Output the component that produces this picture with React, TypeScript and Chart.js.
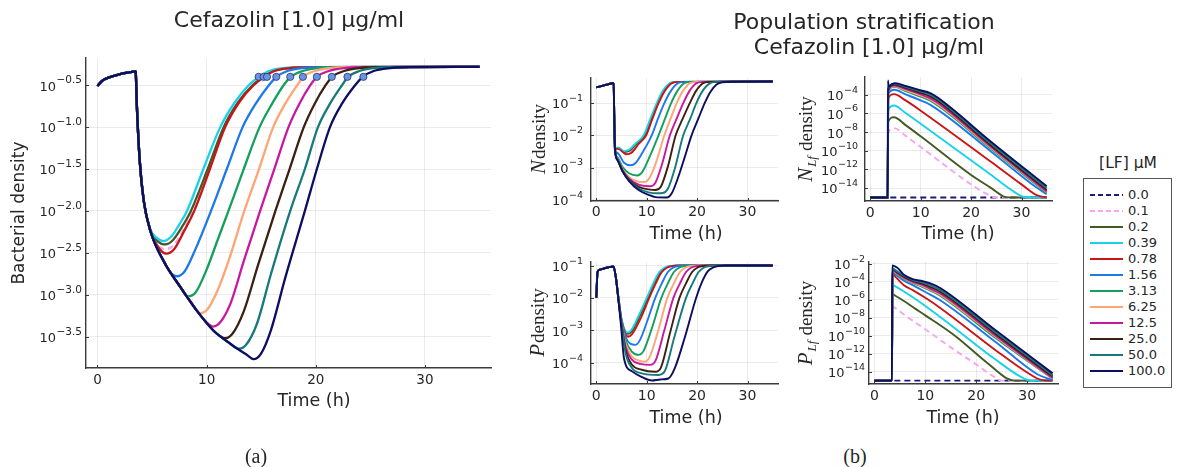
import React, { useEffect, useRef } from "react";
import { Chart, registerables } from "chart.js";
Chart.register(...registerables);

type Pt = [number, number];

const SANS = "'DejaVu Sans', 'Liberation Sans', sans-serif";
const SERIF = "'Liberation Serif', 'DejaVu Serif', serif";
const TEXT = "#262626";
const AXIS = "#3a3a3a";
const GRID = "rgba(0,0,0,0.08)";

// ---- legend / series identity ----
const LEVELS = ["0.0", "0.1", "0.2", "0.39", "0.78", "1.56", "3.13", "6.25", "12.5", "25.0", "50.0", "100.0"];
const COLORS = ["#1c1c78", "#f4a6ee", "#435a25", "#18d2ec", "#c81616", "#1f78ea", "#14a05c", "#ffa476", "#c8189e", "#3c2010", "#177a7a", "#0d0d62"];
const DASHED = [true, true, false, false, false, false, false, false, false, false, false, false];

// ---- axes ----
const X_MIN = -1.05;
const X_MAX = 36.05;
const X_TICKS = [0, 10, 20, 30];
const A_Y_TICKS = [-3.5, -3.0, -2.5, -2.0, -1.5, -1.0, -0.5];
const N_Y_TICKS = [-4, -3, -2, -1];
const P_Y_TICKS = [-4, -3, -2, -1];
const NLF_Y_TICKS = [-14, -12, -10, -8, -6, -4];
const PLF_Y_TICKS = [-14, -12, -10, -8, -6, -4, -2];

// ---- panel (a): log10 bacterial density vs time ----
const A_PRE: Pt[] = [[0, -0.51], [0.4, -0.45], [1, -0.41], [2, -0.37], [3, -0.345], [3.45, -0.335]];
const A_ENV: Pt[] = [[3.5, -0.34], [3.6, -0.72], [3.87, -1.4], [4.24, -1.88], [4.85, -2.24], [6.07, -2.6], [7.6, -2.91], [9.1, -3.19], [10.64, -3.43], [12.17, -3.585], [13.7, -3.72]];
const A_PINK: Pt[] = [[4.85, -2.24], [5.5, -2.41], [6.35, -2.455], [7.1, -2.39], [7.9, -2.22], [8.8, -2.0], [10.25, -1.5], [11.65, -1.0], [12.95, -0.7], [14.25, -0.5], [15.25, -0.4], [16.15, -0.33], [17.5, -0.295], [20, -0.285], [35, -0.28]];
const A_OLIVE: Pt[] = [[4.85, -2.23], [5.5, -2.36], [6.2, -2.4], [6.9, -2.35], [7.7, -2.2], [8.56, -2.0], [10.1, -1.5], [11.56, -1.0], [12.9, -0.7], [14.2, -0.5], [15.2, -0.4], [16.1, -0.33], [17.5, -0.295], [20, -0.285], [35, -0.28]];
const A_CYAN: Pt[] = [[4.85, -2.22], [5.4, -2.32], [6.07, -2.36], [6.8, -2.3], [7.5, -2.16], [8.2, -2.0], [9.7, -1.5], [11.25, -1.0], [12.6, -0.7], [13.85, -0.5], [14.8, -0.4], [15.7, -0.33], [17, -0.295], [20, -0.285], [35, -0.28]];
const A_RED: Pt[] = [[4.85, -2.24], [5.6, -2.44], [6.3, -2.51], [7.0, -2.46], [7.9, -2.25], [8.87, -2.0], [10.3, -1.5], [11.7, -1.0], [13.0, -0.7], [14.3, -0.5], [15.3, -0.4], [16.2, -0.33], [17.6, -0.295], [20, -0.285], [35, -0.28]];
const A_BLUE: Pt[] = [[6.6, -2.72], [7.28, -2.78], [8.0, -2.72], [9.0, -2.45], [10.4, -2.0], [11.85, -1.5], [13.3, -1.0], [14.5, -0.72], [15.7, -0.5], [16.4, -0.4], [17.4, -0.33], [18.8, -0.295], [21, -0.285], [35, -0.28]];
const A_GREEN: Pt[] = [[8.26, -3.02], [9.0, -2.97], [10.0, -2.7], [11.0, -2.35], [12.0, -2.0], [13.4, -1.5], [14.85, -1.0], [16.0, -0.72], [17.05, -0.5], [17.7, -0.4], [18.8, -0.33], [20.2, -0.295], [22, -0.285], [35, -0.28]];
const A_PEACH: Pt[] = [[8.5, -3.07], [9.4, -3.22], [10.1, -3.17], [11.0, -2.95], [12.0, -2.6], [13.45, -2.0], [14.8, -1.5], [16.1, -1.0], [17.2, -0.72], [18.3, -0.5], [18.85, -0.4], [19.9, -0.33], [21.4, -0.295], [23, -0.285], [35, -0.28]];
const A_MAGENTA: Pt[] = [[10.0, -3.33], [10.6, -3.38], [11.3, -3.32], [12.2, -3.1], [13.4, -2.6], [14.9, -2.0], [16.2, -1.5], [17.5, -1.0], [18.5, -0.72], [19.5, -0.5], [20.1, -0.4], [21.2, -0.33], [22.6, -0.295], [24.5, -0.285], [35, -0.28]];
const A_BROWN: Pt[] = [[11.2, -3.49], [11.7, -3.52], [12.4, -3.46], [13.4, -3.2], [14.7, -2.65], [16.3, -2.0], [17.6, -1.5], [18.9, -1.0], [19.9, -0.72], [20.9, -0.5], [21.5, -0.4], [22.6, -0.33], [24, -0.295], [26, -0.285], [35, -0.28]];
const A_TEAL: Pt[] = [[12.9, -3.645], [13.6, -3.6], [14.6, -3.35], [15.9, -2.75], [17.66, -2.0], [19.0, -1.5], [20.2, -1.0], [21.3, -0.72], [22.4, -0.5], [22.95, -0.4], [24, -0.33], [25.4, -0.295], [27, -0.285], [35, -0.28]];
const A_NAVY: Pt[] = [[14.3, -3.77], [15.0, -3.7], [15.9, -3.42], [17.2, -2.8], [19.0, -2.0], [20.1, -1.5], [21.3, -1.0], [22.4, -0.72], [23.6, -0.5], [24.3, -0.4], [25.3, -0.33], [26.8, -0.295], [28.5, -0.285], [35, -0.28]];
const A_DOTS: Pt[] = [[14.76, -0.4], [15.22, -0.4], [15.53, -0.4], [16.38, -0.4], [17.66, -0.4], [18.82, -0.4], [20.1, -0.4], [21.47, -0.4], [22.9, -0.4], [24.36, -0.4]];

// ---- N density ----
const N_PRE: Pt[] = [[0, -0.51], [1, -0.47], [2, -0.43], [3, -0.39], [3.45, -0.375], [3.55, -1.3], [3.7, -2.42]];
const N_PINK: Pt[] = [[4.3, -2.4], [5.8, -2.56], [6.8, -2.52], [8.2, -2.27], [9.8, -2.0], [11.0, -1.5], [12.3, -1.0], [13.5, -0.62], [14.9, -0.38], [16.3, -0.34], [35, -0.33]];
const N_OLIVE: Pt[] = [[4.3, -2.39], [5.6, -2.52], [6.6, -2.48], [8.0, -2.26], [9.6, -2.0], [10.9, -1.5], [12.2, -1.0], [13.4, -0.62], [14.8, -0.38], [16.2, -0.34], [35, -0.33]];
const N_CYAN: Pt[] = [[4.3, -2.38], [5.5, -2.49], [6.5, -2.45], [7.8, -2.25], [9.4, -2.0], [10.7, -1.5], [12.0, -1.0], [13.2, -0.62], [14.6, -0.38], [16, -0.34], [35, -0.33]];
const N_RED: Pt[] = [[4.3, -2.42], [6.0, -2.59], [7.0, -2.54], [8.4, -2.27], [9.9, -2.0], [11.1, -1.5], [12.35, -1.0], [13.6, -0.62], [15, -0.38], [16.4, -0.34], [35, -0.33]];
const N_BLUE: Pt[] = [[4.2, -2.55], [5.5, -2.85], [6.8, -2.93], [7.8, -2.86], [9.4, -2.47], [11.0, -2.0], [12.2, -1.5], [13.5, -1.0], [14.8, -0.62], [16.2, -0.38], [17.6, -0.34], [35, -0.33]];
const N_GREEN: Pt[] = [[4.2, -2.68], [5.2, -2.98], [6.5, -3.18], [8.1, -3.25], [9.2, -3.12], [10.7, -2.62], [12.35, -2.0], [13.6, -1.5], [14.85, -1.0], [16.1, -0.62], [17.5, -0.38], [19, -0.34], [35, -0.33]];
const N_PEACH: Pt[] = [[4.2, -2.72], [5.2, -3.05], [6.5, -3.3], [8.0, -3.42], [9.4, -3.45], [10.4, -3.36], [11.8, -2.87], [13.5, -2.0], [14.7, -1.5], [15.95, -1.0], [17.2, -0.62], [18.6, -0.38], [20, -0.34], [35, -0.33]];
const N_MAGENTA: Pt[] = [[4.2, -2.74], [5.2, -3.08], [6.5, -3.35], [8.4, -3.53], [10.7, -3.58], [11.7, -3.48], [13.0, -2.92], [14.6, -2.0], [15.9, -1.5], [17.25, -1.0], [18.5, -0.62], [19.9, -0.38], [21.3, -0.34], [35, -0.33]];
const N_BROWN: Pt[] = [[4.2, -2.75], [5.2, -3.1], [6.5, -3.38], [8.4, -3.6], [10.4, -3.68], [11.7, -3.7], [12.8, -3.6], [14.2, -2.97], [15.75, -2.0], [17.1, -1.5], [18.55, -1.0], [19.8, -0.62], [21.2, -0.38], [22.6, -0.34], [35, -0.33]];
const N_TEAL: Pt[] = [[4.2, -2.76], [5.2, -3.11], [6.5, -3.4], [8.4, -3.65], [10.4, -3.77], [12.0, -3.8], [13.2, -3.79], [14.2, -3.66], [15.6, -3.02], [17.25, -2.0], [18.6, -1.5], [19.85, -1.0], [21.1, -0.62], [22.6, -0.38], [24, -0.34], [35, -0.33]];
const N_NAVY: Pt[] = [[4.2, -2.77], [5.2, -3.12], [6.5, -3.42], [8.4, -3.7], [10.4, -3.85], [11.7, -3.92], [14.0, -3.93], [15.0, -3.79], [16.3, -3.28], [17.5, -2.7], [18.9, -2.0], [20.2, -1.5], [21.5, -1.0], [22.6, -0.66], [23.8, -0.43], [25, -0.35], [27, -0.335], [35, -0.33]];

// ---- P density ----
const P_PRE: Pt[] = [[0, -1.99], [0.25, -1.2], [0.6, -1.13], [1.25, -1.1], [2.3, -1.06], [3.4, -1.03], [3.85, -1.33]];
const P_PINK: Pt[] = [[4.4, -2.0], [5.0, -2.68], [5.75, -3.08], [6.3, -3.16], [7.05, -3.08], [8.75, -2.58], [10.35, -2.0], [11.65, -1.55], [12.85, -1.2], [13.95, -1.06], [15.1, -1.01], [16.4, -1.0], [35, -1.0]];
const P_OLIVE: Pt[] = [[4.4, -2.0], [5.0, -2.67], [5.7, -3.03], [6.25, -3.11], [7.0, -3.04], [8.6, -2.57], [10.2, -2.0], [11.5, -1.55], [12.7, -1.2], [13.8, -1.06], [15.0, -1.01], [16.2, -1.0], [35, -1.0]];
const P_CYAN: Pt[] = [[4.4, -2.0], [5.0, -2.65], [5.6, -2.98], [6.15, -3.07], [6.9, -3.0], [8.4, -2.55], [10.0, -2.0], [11.3, -1.55], [12.5, -1.2], [13.6, -1.06], [14.8, -1.01], [16, -1.0], [35, -1.0]];
const P_RED: Pt[] = [[4.4, -2.0], [5.0, -2.69], [5.8, -3.12], [6.3, -3.2], [7.1, -3.12], [8.9, -2.6], [10.5, -2.0], [11.8, -1.55], [13.0, -1.2], [14.1, -1.06], [15.3, -1.01], [16.6, -1.0], [35, -1.0]];
const P_BLUE: Pt[] = [[4.4, -2.02], [5.0, -2.72], [5.8, -3.2], [6.8, -3.42], [7.75, -3.45], [8.6, -3.32], [10.1, -2.72], [11.7, -2.0], [13.0, -1.55], [14.2, -1.2], [15.3, -1.06], [16.5, -1.01], [17.8, -1.0], [35, -1.0]];
const P_GREEN: Pt[] = [[4.4, -2.03], [5.0, -2.75], [5.8, -3.3], [7.0, -3.65], [8.4, -3.76], [9.3, -3.66], [11.0, -2.95], [12.9, -2.0], [14.2, -1.55], [15.4, -1.2], [16.5, -1.06], [17.7, -1.01], [19, -1.0], [35, -1.0]];
const P_PEACH: Pt[] = [[4.4, -2.04], [5.0, -2.77], [5.8, -3.4], [7.0, -3.8], [8.5, -3.94], [9.6, -3.97], [10.6, -3.82], [12.3, -3.0], [14.1, -2.0], [15.4, -1.55], [16.6, -1.2], [17.7, -1.06], [18.9, -1.01], [20.2, -1.0], [35, -1.0]];
const P_MAGENTA: Pt[] = [[4.4, -2.05], [5.0, -2.79], [5.8, -3.5], [7.0, -3.9], [8.8, -4.04], [10.7, -4.07], [11.8, -3.92], [13.5, -3.0], [15.3, -2.0], [16.6, -1.55], [17.8, -1.2], [18.9, -1.06], [20.1, -1.01], [21.4, -1.0], [35, -1.0]];
const P_BROWN: Pt[] = [[4.4, -2.06], [5.0, -2.8], [5.8, -3.6], [7.0, -4.05], [9.0, -4.22], [11.7, -4.28], [12.8, -4.16], [14.6, -3.1], [16.5, -2.0], [17.8, -1.55], [19.0, -1.2], [20.1, -1.06], [21.3, -1.01], [22.6, -1.0], [35, -1.0]];
const P_TEAL: Pt[] = [[4.4, -2.07], [5.0, -2.82], [5.8, -3.7], [7.0, -4.15], [9.0, -4.33], [12.35, -4.38], [13.6, -4.26], [15.5, -3.2], [17.8, -2.0], [19.1, -1.55], [20.3, -1.2], [21.4, -1.06], [22.6, -1.01], [23.9, -1.0], [35, -1.0]];
const P_NAVY: Pt[] = [[4.4, -2.08], [4.9, -2.85], [5.5, -3.87], [7.1, -4.27], [9.1, -4.45], [11.0, -4.55], [12.7, -4.52], [14.3, -4.49], [15.6, -4.16], [17.6, -3.2], [19.8, -2.0], [21.0, -1.5], [22.1, -1.18], [23.2, -1.06], [24.4, -1.01], [25.6, -1.0], [35, -1.0]];

// ---- N_Lf density ----
const LF_FLOOR: Pt[] = [[0, -15], [3.45, -15]];
const NL_ZERO: Pt[] = [[0, -15], [35, -15]];
const NL_PINK: Pt[] = [[3.55, -8.1], [4.7, -7.57], [7, -8.4], [10, -9.6], [20, -13.6], [23, -14.6], [25, -15], [35, -15]];
const NL_OLIVE: Pt[] = [[3.55, -6.9], [4.7, -6.4], [7, -7.25], [10, -8.45], [20, -12.6], [24, -14.0], [26.5, -14.9], [28, -15], [35, -15]];
const NL_CYAN: Pt[] = [[3.55, -5.6], [4.7, -5.15], [7, -5.95], [10, -7.1], [24, -12.6], [28, -14.2], [30.5, -14.95], [32, -15], [35, -15]];
const NL_RED: Pt[] = [[3.55, -4.4], [4.7, -3.93], [7, -4.6], [10, -5.7], [24, -11.2], [30, -13.6], [33, -14.75], [35, -15]];
const NL_BLUE: Pt[] = [[3.55, -3.9], [4.8, -3.46], [7, -3.95], [9.5, -4.5], [12, -5.1], [24, -10.1], [32, -13.55], [35, -14.65]];
const NL_GREEN: Pt[] = [[3.55, -3.7], [4.8, -3.15], [7, -3.6], [9.5, -4.1], [12, -4.65], [24, -9.8], [35, -14.5]];
const NL_PEACH: Pt[] = [[3.55, -3.65], [4.8, -3.08], [7, -3.5], [9.5, -3.98], [12, -4.52], [24, -9.7], [35, -14.42]];
const NL_MAGENTA: Pt[] = [[3.55, -3.6], [4.8, -3.0], [7, -3.4], [9.5, -3.85], [12, -4.4], [13.5, -4.9], [24, -9.6], [35, -14.35]];
const NL_BROWN: Pt[] = [[3.55, -3.5], [4.8, -2.9], [7, -3.25], [9.5, -3.7], [12, -4.2], [13.5, -4.7], [24, -9.45], [35, -14.2]];
const NL_TEAL: Pt[] = [[3.55, -3.4], [4.8, -2.8], [7, -3.15], [9.5, -3.55], [12, -4.0], [13.5, -4.5], [24, -9.25], [35, -14.0]];
const NL_NAVY: Pt[] = [[3.5, -2.47], [3.65, -3.1], [4.3, -2.85], [5.0, -2.75], [7, -3.05], [9.5, -3.45], [12, -3.85], [13.5, -4.35], [24, -9.05], [35, -13.8]];

// ---- P_Lf density ----
const PL_ZERO: Pt[] = [[0, -15], [35, -15]];
const PL_PINK: Pt[] = [[3.55, -6.8], [4.5, -7.1], [6, -7.75], [10, -9.3], [16, -11.7], [20, -13.2], [23, -14.4], [25, -15], [35, -15]];
const PL_OLIVE: Pt[] = [[3.55, -5.4], [4.2, -5.6], [5.8, -6.15], [8, -7.0], [10, -7.75], [16, -10.1], [21, -12.5], [24, -13.9], [26, -14.75], [27.5, -15], [35, -15]];
const PL_CYAN: Pt[] = [[3.55, -4.4], [4.2, -4.55], [5.8, -5.1], [7.7, -5.8], [10, -6.7], [13, -7.95], [24, -12.75], [28.5, -14.5], [30.6, -15], [35, -15]];
const PL_RED: Pt[] = [[3.55, -3.1], [4.2, -3.5], [5.8, -4.4], [7.7, -5.0], [10, -5.8], [13, -6.95], [24, -11.7], [30, -14.1], [33, -14.95], [35, -15]];
const PL_BLUE: Pt[] = [[3.55, -2.9], [4.2, -3.2], [5.8, -3.9], [7.7, -4.45], [10, -5.15], [13, -6.1], [24, -10.8], [32, -14.3], [35, -14.95]];
const PL_GREEN: Pt[] = [[3.55, -2.8], [4.2, -3.05], [5.8, -3.7], [7.7, -4.2], [9.5, -4.6], [11, -5.0], [13, -5.6], [24, -10.35], [35, -14.8]];
const PL_PEACH: Pt[] = [[3.55, -2.75], [4.2, -3.0], [5.8, -3.62], [7.7, -4.12], [9.5, -4.5], [11, -4.9], [13, -5.47], [24, -10.22], [35, -14.75]];
const PL_MAGENTA: Pt[] = [[3.55, -2.7], [4.2, -2.95], [5.8, -3.55], [7.7, -4.05], [9.5, -4.4], [11, -4.8], [13, -5.35], [24, -10.1], [35, -14.7]];
const PL_BROWN: Pt[] = [[3.55, -2.6], [4.2, -2.85], [5.8, -3.45], [7.7, -3.95], [9.5, -4.25], [11, -4.6], [13, -5.15], [24, -9.9], [35, -14.55]];
const PL_TEAL: Pt[] = [[3.55, -2.5], [4.2, -2.75], [5.8, -3.35], [7.7, -3.85], [9.5, -4.1], [11, -4.4], [13, -4.95], [24, -9.7], [35, -14.4]];
const PL_NAVY: Pt[] = [[3.5, -2.2], [4.0, -2.3], [4.6, -2.5], [5.8, -3.25], [7.7, -3.75], [9.5, -3.95], [11.0, -4.2], [13, -4.74], [24, -9.5], [35, -14.2]];

// ---- assembly helpers ----
const withEnv = (pre: Pt[], env: Pt[], own: Pt[]): Pt[] => [...pre, ...env.filter((p) => p[0] < own[0][0]), ...own];
const withPre = (pre: Pt[], own: Pt[]): Pt[] => [...pre, ...own];

const A_SERIES: (Pt[] | null)[] = [null, A_PINK, A_OLIVE, A_CYAN, A_RED, A_BLUE, A_GREEN, A_PEACH, A_MAGENTA, A_BROWN, A_TEAL, A_NAVY].map((s) => (s ? withEnv(A_PRE, A_ENV, s) : null));
const N_SERIES: (Pt[] | null)[] = [null, N_PINK, N_OLIVE, N_CYAN, N_RED, N_BLUE, N_GREEN, N_PEACH, N_MAGENTA, N_BROWN, N_TEAL, N_NAVY].map((s) => (s ? withPre(N_PRE, s) : null));
const P_SERIES: (Pt[] | null)[] = [null, P_PINK, P_OLIVE, P_CYAN, P_RED, P_BLUE, P_GREEN, P_PEACH, P_MAGENTA, P_BROWN, P_TEAL, P_NAVY].map((s) => (s ? withPre(P_PRE, s) : null));
const NL_SERIES: (Pt[] | null)[] = [NL_ZERO, ...[NL_PINK, NL_OLIVE, NL_CYAN, NL_RED, NL_BLUE, NL_GREEN, NL_PEACH, NL_MAGENTA, NL_BROWN, NL_TEAL, NL_NAVY].map((s) => withPre(LF_FLOOR, s))];
const PL_SERIES: (Pt[] | null)[] = [PL_ZERO, ...[PL_PINK, PL_OLIVE, PL_CYAN, PL_RED, PL_BLUE, PL_GREEN, PL_PEACH, PL_MAGENTA, PL_BROWN, PL_TEAL, PL_NAVY].map((s) => withPre(LF_FLOOR, s))];

interface PanelCfg {
  id: string;
  left: number; top: number; w: number; h: number;
  area: { left: number; top: number; right: number; bottom: number };
  series: (Pt[] | null)[];
  dots?: Pt[];
  yMin: number; yMax: number; yTicks: number[];
  yFmt: (v: number) => string;
  yBase: number; ySup: number; yGap: number;
  tickSize: number; xTickPad: number;
  xTitleCx: number; xTitleCy: number;
  yTitleText?: string; yTitleSym?: { letter: string; sub?: string }; yTitleX: number; yTitleSize: number;
  lw: number;
}

const fmt1 = (v: number) => "\u2212" + Math.abs(v).toFixed(1);
const fmt0 = (v: number) => "\u2212" + String(Math.abs(v));

const PANELS: PanelCfg[] = [
  {
    id: "a", left: 0, top: 0, w: 520, h: 467,
    area: { left: 86, top: 58, right: 491, bottom: 368 },
    series: A_SERIES, dots: A_DOTS,
    yMin: -3.875, yMax: -0.175, yTicks: A_Y_TICKS, yFmt: fmt1,
    yBase: 13, ySup: 10.5, yGap: 4,
    tickSize: 13.5, xTickPad: 4,
    xTitleCx: 314, xTitleCy: 401,
    yTitleText: "Bacterial density", yTitleX: 20, yTitleSize: 17,
    lw: 2.3,
  },
  {
    id: "n", left: 520, top: 60, w: 260, h: 190,
    area: { left: 71, top: 18, right: 258, bottom: 141 },
    series: N_SERIES,
    yMin: -4.04, yMax: -0.22, yTicks: N_Y_TICKS, yFmt: fmt0,
    yBase: 13, ySup: 9.5, yGap: 8,
    tickSize: 14, xTickPad: 3,
    xTitleCx: 166, xTitleCy: 174,
    yTitleSym: { letter: "N" }, yTitleX: 18, yTitleSize: 19,
    lw: 1.9,
  },
  {
    id: "nlf", left: 780, top: 60, w: 290, h: 190,
    area: { left: 85, top: 17, right: 272, bottom: 141 },
    series: NL_SERIES,
    yMin: -15.38, yMax: -2.09, yTicks: NLF_Y_TICKS, yFmt: fmt0,
    yBase: 13, ySup: 9.5, yGap: 7,
    tickSize: 14, xTickPad: 4,
    xTitleCx: 178, xTitleCy: 174,
    yTitleSym: { letter: "N", sub: "Lf" }, yTitleX: 25, yTitleSize: 19,
    lw: 1.9,
  },
  {
    id: "p", left: 520, top: 245, w: 260, h: 190,
    area: { left: 71, top: 17, right: 258, bottom: 139 },
    series: P_SERIES,
    yMin: -4.66, yMax: -0.89, yTicks: P_Y_TICKS, yFmt: fmt0,
    yBase: 13, ySup: 9.5, yGap: 8,
    tickSize: 14, xTickPad: 4,
    xTitleCx: 166, xTitleCy: 173,
    yTitleSym: { letter: "P" }, yTitleX: 17, yTitleSize: 19,
    lw: 1.9,
  },
  {
    id: "plf", left: 780, top: 245, w: 290, h: 190,
    area: { left: 89, top: 17, right: 278, bottom: 139 },
    series: PL_SERIES,
    yMin: -15.38, yMax: -1.82, yTicks: PLF_Y_TICKS, yFmt: fmt0,
    yBase: 13, ySup: 9.5, yGap: 4,
    tickSize: 14, xTickPad: 4,
    xTitleCx: 183, xTitleCy: 173,
    yTitleSym: { letter: "P", sub: "Lf" }, yTitleX: 25, yTitleSize: 19,
    lw: 1.9,
  },
];

function decorPlugin(p: PanelCfg) {
  return {
    id: "decor_" + p.id,
    afterDraw(chart: any) {
      const ctx: CanvasRenderingContext2D = chart.ctx;
      const a = chart.chartArea;
      const xs = chart.scales.x;
      const ys = chart.scales.y;
      ctx.save();
      // inward tick marks
      ctx.strokeStyle = AXIS;
      ctx.lineWidth = 1;
      ctx.beginPath();
      for (const v of X_TICKS) {
        const px = Math.round(xs.getPixelForValue(v)) + 0.5;
        ctx.moveTo(px, a.bottom);
        ctx.lineTo(px, a.bottom - 3);
      }
      for (const v of p.yTicks) {
        const py = Math.round(ys.getPixelForValue(v)) + 0.5;
        ctx.moveTo(a.left, py);
        ctx.lineTo(a.left + 3, py);
      }
      ctx.stroke();
      // y tick labels 10^exp
      ctx.fillStyle = TEXT;
      ctx.textBaseline = "middle";
      ctx.textAlign = "left";
      const baseFont = `${p.yBase}px ${SANS}`;
      const supFont = `${p.ySup}px ${SANS}`;
      for (const v of p.yTicks) {
        const py = ys.getPixelForValue(v);
        const e = p.yFmt(v);
        ctx.font = supFont;
        const we = ctx.measureText(e).width;
        ctx.font = baseFont;
        const wb = ctx.measureText("10").width;
        const xr = a.left - p.yGap;
        ctx.fillText("10", xr - we - wb - 0.5, py + 2);
        ctx.font = supFont;
        ctx.fillText(e, xr - we, py - 4.5);
      }
      // x title
      ctx.font = `17.5px ${SANS}`;
      ctx.textAlign = "center";
      ctx.fillText("Time (h)", p.xTitleCx, p.xTitleCy);
      // y title
      const cy = (a.top + a.bottom) / 2;
      ctx.translate(p.yTitleX, cy);
      ctx.rotate(-Math.PI / 2);
      if (p.yTitleText) {
        ctx.font = `${p.yTitleSize}px ${SANS}`;
        ctx.textAlign = "center";
        ctx.textBaseline = "middle";
        ctx.fillText(p.yTitleText, 0, 0);
      } else if (p.yTitleSym) {
        ctx.textAlign = "left";
        ctx.textBaseline = "alphabetic";
        const fN = `italic 21px ${SERIF}`;
        const fS = `italic 13px ${SERIF}`;
        const fD = `${p.yTitleSize}px ${SERIF}`;
        ctx.font = fN;
        const wN = ctx.measureText(p.yTitleSym.letter).width;
        let wS = 0;
        if (p.yTitleSym.sub) {
          ctx.font = fS;
          wS = ctx.measureText(p.yTitleSym.sub).width + 6;
        }
        ctx.font = fD;
        const wD = ctx.measureText("density").width;
        let x0 = -(wN + wS + wD) / 2;
        ctx.font = fN;
        ctx.fillText(p.yTitleSym.letter, x0, 7);
        x0 += wN + 1;
        if (p.yTitleSym.sub) {
          ctx.font = fS;
          ctx.fillText(p.yTitleSym.sub, x0, 11);
          x0 += wS - 1;
        }
        ctx.font = fD;
        ctx.fillText("density", x0, 7);
      }
      ctx.restore();
    },
  };
}

function makeChart(canvas: HTMLCanvasElement, p: PanelCfg) {
  const datasets: any[] = [];
  p.series.forEach((s, i) => {
    if (!s) return;
    datasets.push({
      label: LEVELS[i],
      data: s.map(([x, y]) => ({ x, y })),
      borderColor: COLORS[i],
      backgroundColor: COLORS[i],
      borderWidth: p.lw,
      borderDash: DASHED[i] ? [6, 4] : [],
      pointRadius: 0,
      fill: false,
      cubicInterpolationMode: "monotone",
      order: 100 - i,
    });
  });
  if (p.dots) {
    datasets.push({
      label: "dots",
      data: p.dots.map(([x, y]) => ({ x, y })),
      showLine: false,
      pointRadius: 3.6,
      pointBackgroundColor: "#6a93e6",
      pointBorderColor: "#27335e",
      pointBorderWidth: 0.8,
      order: 0,
    });
  }
  return new Chart(canvas, {
    type: "line",
    data: { datasets },
    options: {
      animation: false,
      responsive: false,
      maintainAspectRatio: false,
      devicePixelRatio: 1,
      events: [],
      layout: { autoPadding: false, padding: { left: 0, top: p.area.top, right: p.w - p.area.right, bottom: 0 } },
      plugins: { legend: { display: false }, tooltip: { enabled: false }, title: { display: false } },
      scales: {
        x: {
          type: "linear",
          min: X_MIN,
          max: X_MAX,
          afterBuildTicks: (s: any) => { s.ticks = X_TICKS.map((value) => ({ value })); },
          afterFit: (s: any) => { s.height = p.h - p.area.bottom; },
          grid: { color: GRID, drawTicks: false, lineWidth: 1 },
          border: { display: true, color: AXIS, width: 1.4 },
          ticks: { padding: p.xTickPad, font: { family: SANS, size: p.tickSize }, color: TEXT, maxRotation: 0, autoSkip: false },
          title: { display: false },
        },
        y: {
          type: "linear",
          min: p.yMin,
          max: p.yMax,
          afterBuildTicks: (s: any) => { s.ticks = p.yTicks.map((value) => ({ value })); },
          afterFit: (s: any) => { s.width = p.area.left; },
          grid: { color: GRID, drawTicks: false, lineWidth: 1 },
          border: { display: true, color: AXIS, width: 1.4 },
          ticks: { display: false },
          title: { display: false },
        },
      },
    } as any,
    plugins: [decorPlugin(p)],
  });
}

function Panel({ p }: { p: PanelCfg }) {
  const ref = useRef<HTMLCanvasElement>(null);
  useEffect(() => {
    const chart = makeChart(ref.current as HTMLCanvasElement, p);
    return () => chart.destroy();
  }, []);
  return (
    <canvas
      ref={ref}
      width={p.w}
      height={p.h}
      style={{ position: "absolute", left: p.left, top: p.top, width: p.w, height: p.h }}
    />
  );
}

function Legend() {
  return (
    <>
      <div style={{ position: "absolute", left: 1078, width: 100, top: 151, textAlign: "center", fontSize: 15.5, lineHeight: "24px" }}>
        [LF] μM
      </div>
      <div
        style={{
          position: "absolute", left: 1083, top: 178, width: 87, height: 200,
          border: "1px solid #555", background: "#fff", paddingTop: 8, boxSizing: "content-box",
        }}
      >
        {LEVELS.map((lv, i) => (
          <div key={lv} style={{ position: "relative", height: 16 }}>
            <svg width={40} height={16} style={{ position: "absolute", left: 5, top: 0 }}>
              <line x1={1} y1={8} x2={34} y2={8} stroke={COLORS[i]} strokeWidth={2} strokeDasharray={DASHED[i] ? "5 3" : undefined} />
            </svg>
            <span style={{ position: "absolute", left: 44, top: 0, fontSize: 13, lineHeight: "16px" }}>{lv}</span>
          </div>
        ))}
      </div>
    </>
  );
}

export default function App() {
  return (
    <div
      style={{
        position: "absolute", left: 0, top: 0, width: 1179, height: 467,
        background: "#fff", overflow: "hidden", fontFamily: SANS, color: TEXT,
      }}
    >
      {PANELS.map((p) => (
        <Panel key={p.id} p={p} />
      ))}
      <div style={{ position: "absolute", left: 0, width: 578, top: 5, textAlign: "center", fontSize: 22, lineHeight: "30px" }}>
        Cefazolin [1.0] μg/ml
      </div>
      <div style={{ position: "absolute", left: 664, width: 400, top: 7, textAlign: "center", fontSize: 22, lineHeight: "30px" }}>
        Population stratification
      </div>
      <div style={{ position: "absolute", left: 669, width: 400, top: 32, textAlign: "center", fontSize: 22, lineHeight: "30px" }}>
        Cefazolin [1.0] μg/ml
      </div>
      <div style={{ position: "absolute", left: 206, width: 100, top: 443, textAlign: "center", fontSize: 20, lineHeight: "26px", fontFamily: SERIF }}>
        (a)
      </div>
      <div style={{ position: "absolute", left: 805, width: 100, top: 443, textAlign: "center", fontSize: 20, lineHeight: "26px", fontFamily: SERIF }}>
        (b)
      </div>
      <Legend />
    </div>
  );
}
